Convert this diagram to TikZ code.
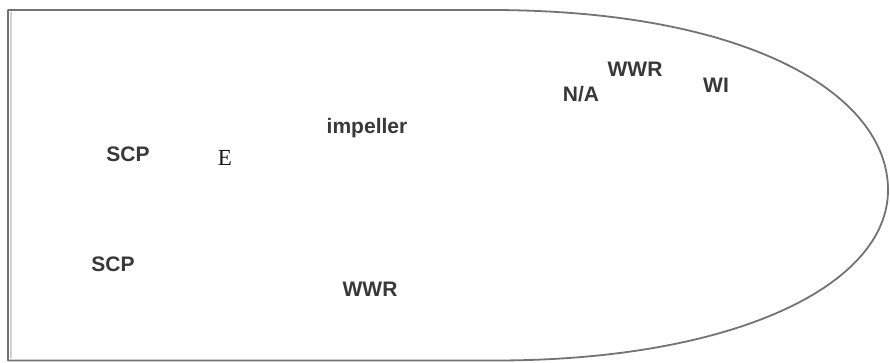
\documentclass[tikz,border=0pt]{standalone}
\usepackage{fontspec}
\setmainfont{Liberation Sans}
\newfontfamily\serifE{Liberation Serif}
\begin{document}
\begin{tikzpicture}[x=1pt,y=-1pt,
  lbl/.style={anchor=base,inner sep=0pt,text=black!78,font=\bfseries\fontsize{21}{24}\selectfont},
  hull/.style={draw=black!55,line width=1.8pt,line join=round}]
\useasboundingbox (0,0) rectangle (890,362);
\fill[white] (0,0) rectangle (890,362);
% outline: straight left end, rounded nose on the right
\draw[hull] (490,10) -- (8,10) -- (8,360.5) -- (495,360.5)
  .. controls (735,360.5) and (888,285) .. (888,190)
  .. controls (888,95) and (750,10) .. (490,10) -- cycle;
\draw[black!18,line width=1.5pt] (11,12) -- (11,358);
% labels
\node[lbl] (scpa) at (128,161) {SCP};
\node[lbl,text=black!90,font=\serifE\fontsize{23}{26}\selectfont] (e) at (225,165) {E};
\node[lbl] (imp) at (367,133) {impeller};
\node[lbl] (scpb) at (113,271) {SCP};
\node[lbl] (wwrb) at (370,296) {WWR};
\node[lbl] (na) at (581,101) {N/A};
\node[lbl] (wwrt) at (635,76) {WWR};
\node[lbl] (wi) at (716,92) {WI};
\end{tikzpicture}
\end{document}
